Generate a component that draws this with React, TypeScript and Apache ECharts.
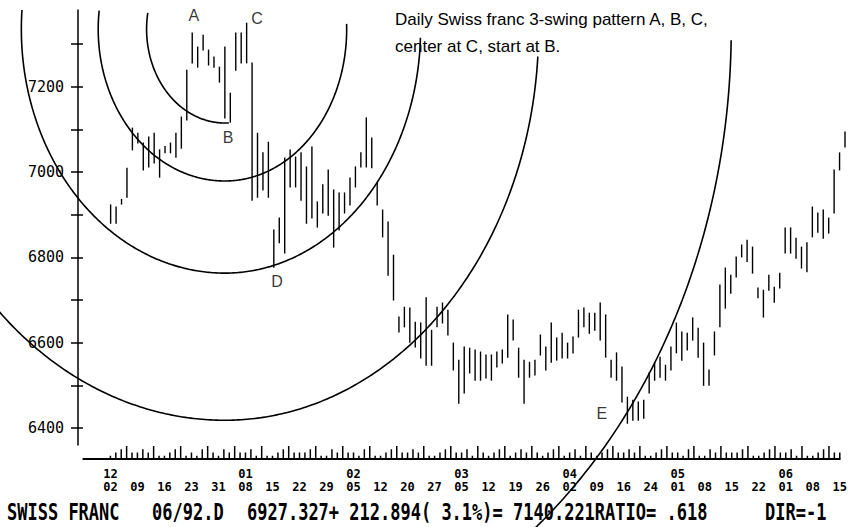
import React, { useEffect, useRef } from "react";
import * as echarts from "echarts";

// ---- axis labels (one label every 5 trading days) ----
const dayLabels = ["02","09","16","23","31","08","15","22","29","05","12","20","27","05","12","19","26","02","09","16","24","01","08","15","22","01","08","15"];
const monthLabels = ["12","","","","","01","","","","02","","","","03","","","","04","","","","05","","","","06","",""];

// ---- daily bars (trading-day index 0 = Dec 02) ----
const highs = [
  6923,6918,6936,7009,7103,7091,7068,7082,7091,7052,
  7060,7068,7091,7129,7239,7326,7293,7321,7286,7270,
  7246,7293,7185,7326,7326,7349,7256,7091,7045,7070,
  6864,6892,7033,7052,7035,7045,7012,7059,6930,6970,
  7005,6958,6951,6951,6986,7012,7045,7127,7080,6974,
  6911,6883,6805,6660,6683,6681,6648,6646,6705,6629,
  6683,6693,6676,6599,6559,6590,6587,6583,6578,6571,
  6571,6578,6583,6665,6653,6587,6559,6554,6559,6618,
  6590,6646,6611,6622,6599,6613,6676,6681,6669,6669,
  6693,6665,6559,6576,6543,6472,6465,6461,6465,6529,
  6552,6566,6547,6590,6646,6625,6622,6658,6634,6599,
  6536,6625,6735,6775,6758,6801,6829,6840,6824,6728,
  6723,6758,6730,6763,6869,6869,6845,6824,6834,6918,
  6904,6911,6892,7005,7045,7094
];
const lows = [
  6880,6880,6925,6941,7052,7068,7005,7012,7021,6988,
  7045,7045,7035,7056,7122,7256,7246,7286,7251,7246,
  7211,7127,7117,7239,7256,7256,6934,6941,6958,6941,
  6777,6834,6810,6965,6965,6934,6880,6892,6871,6904,
  6899,6824,6864,6904,6923,6965,7012,7012,7010,6923,
  6848,6758,6700,6625,6637,6601,6590,6564,6547,6547,
  6637,6646,6618,6536,6458,6482,6529,6512,6512,6517,
  6512,6543,6552,6566,6606,6519,6458,6519,6524,6571,
  6536,6554,6559,6564,6564,6576,6613,6637,6622,6629,
  6606,6566,6519,6512,6461,6411,6418,6418,6423,6482,
  6512,6519,6512,6536,6576,6559,6583,6606,6566,6500,
  6500,6571,6637,6681,6716,6754,6801,6790,6763,6705,
  6660,6723,6695,6728,6810,6810,6798,6775,6766,6848,
  6859,6845,6857,6904,7005,7059
];

// ---- small activity ticks along the time axis ----
const tickMarks = [
  1,2,3,4,2, 2,3,2,4,1, 1,2,3,4,1, 2,1,3,4,2, 1,3,2,4,2,
  2,3,1,4,1, 1,2,3,4,2, 2,2,3,4,1, 1,3,2,4,2, 2,1,3,4,1,
  1,2,3,4,2, 2,3,2,4,1, 1,2,3,4,2, 2,3,1,4,2, 1,2,3,4,1,
  2,3,2,4,2, 1,2,3,4,1, 2,3,1,4,2, 1,2,3,4,2, 2,3,2,4,1,
  1,2,3,4,2, 2,1,3,4,1, 1,3,2,4,2, 2,2,3,4,1, 1,2,3,4,2,
  2,3,1,4,1, 1,2,3,4,2, 2
];

// ---- price axis ----
const yTickValues = [6400,6500,6600,6700,6800,6900,7000,7100,7200,7300];
const yLabelValues = [6400,6600,6800,7000,7200];
const Y_MIN = 6360;
const Y_MAX = 7380;

// ---- swing circles: centre near C, radii growing by the 0.618 ratio ----
const arcCenter = [21.0, 7335];
const arcRadii = [220, 356, 572, 917, 1480];
const arcSweeps = [[-3, 100], [-92, 100], [-88, 100], [-86, 100], [-89, 100]];
const PRICE_PER_BAR = 15.9;
const LEFT_STRETCH = 1.04;

// ---- point annotations ----
const pointNames = ["A", "C", "B", "D", "E"];
const pointBars = [15.3, 26.9, 21.6, 30.6, 90.3];
const pointPrices = [7368, 7361, 7082, 6744, 6433];

const MONO = '"DejaVu Sans Mono", "Liberation Mono", monospace';
const SANS = '"Liberation Sans", Arial, Helvetica, sans-serif';

export default function App() {
  const ref = useRef<HTMLDivElement>(null);

  useEffect(() => {
    if (!ref.current) return;
    const chart = echarts.init(ref.current, undefined, { renderer: "svg" });

    const option: any = {
      animation: false,
      backgroundColor: "#ffffff",
      grid: [
        { left: 78, right: 5, top: 10, height: 435 },
        { left: 83.4, right: 5, top: 446, height: 13 },
      ],
      xAxis: [
        { type: "value", gridIndex: 0, min: -6, max: 135, show: false },
        {
          type: "value",
          gridIndex: 1,
          min: -5,
          max: 135,
          interval: 5,
          axisLine: { show: true, onZero: false, lineStyle: { color: "#000", width: 2 } },
          axisTick: { show: false },
          splitLine: { show: false },
          axisLabel: {
            show: true,
            showMinLabel: true,
            showMaxLabel: true,
            margin: 8,
            color: "#000",
            formatter: (v: number) => {
              if (v < 0) return "";
              const k = Math.round(v / 5);
              const m = monthLabels[k] || " ";
              const d = dayLabels[k] || "";
              return `{m|${m}}\n{d|${d}}`;
            },
            rich: {
              m: { fontFamily: MONO, fontSize: 12, fontWeight: "bold", lineHeight: 13, color: "#000" },
              d: { fontFamily: MONO, fontSize: 12, fontWeight: "bold", lineHeight: 13, color: "#000" },
            },
          },
        },
      ],
      yAxis: [
        {
          type: "value",
          gridIndex: 0,
          min: Y_MIN,
          max: Y_MAX,
          position: "left",
          axisLine: { show: true, onZero: false, lineStyle: { color: "#000", width: 1.5 } },
          axisTick: { show: true, length: 7, customValues: yTickValues, lineStyle: { color: "#000", width: 1.5 } },
          axisLabel: {
            show: true,
            customValues: yLabelValues,
            formatter: (v: number) => String(v),
            margin: 14,
            color: "#000",
            fontFamily: MONO,
            fontSize: 15,
          },
          splitLine: { show: false },
        },
        {
          type: "value",
          gridIndex: 0,
          min: Y_MIN,
          max: Y_MAX,
          position: "left",
          axisLine: { show: false, onZero: false },
          axisTick: { show: true, inside: true, length: 5, customValues: yTickValues, lineStyle: { color: "#000", width: 1.5 } },
          axisLabel: { show: false },
          splitLine: { show: false },
        },
        { type: "value", gridIndex: 1, min: 0, max: 4, show: false },
      ],
      series: [
        {
          type: "custom",
          name: "bars",
          xAxisIndex: 0,
          yAxisIndex: 0,
          clip: false,
          silent: true,
          data: highs.map((h, i) => [i, h, lows[i]]),
          encode: { x: 0, y: [1, 2] },
          renderItem: (_params: any, api: any) => {
            const top = api.coord([api.value(0), api.value(1)]);
            const bot = api.coord([api.value(0), api.value(2)]);
            return {
              type: "line",
              shape: { x1: top[0], y1: top[1] - 0.5, x2: bot[0], y2: bot[1] + 0.5 },
              style: { stroke: "#000", lineWidth: 1.4 },
            };
          },
        },
        {
          type: "custom",
          name: "circles",
          xAxisIndex: 0,
          yAxisIndex: 0,
          clip: false,
          silent: true,
          data: arcRadii.map((r, k) => [arcCenter[0], arcCenter[1], r, arcSweeps[k][0], arcSweeps[k][1]]),
          encode: { x: 0, y: 1 },
          renderItem: (_params: any, api: any) => {
            const cb = api.value(0);
            const cp = api.value(1);
            const r = api.value(2);
            const a0 = api.value(3);
            const a1 = api.value(4);
            const c = api.coord([cb, cp]);
            const b = api.size([0, r])[1];
            const a = api.size([r / PRICE_PER_BAR, 0])[0];
            const yTop = api.coord([cb, Y_MAX])[1];
            const pts: number[][] = [];
            for (let d = a0; d <= a1; d += 0.5) {
              const t = (d * Math.PI) / 180;
              const s = Math.sin(t);
              const x = c[0] - a * s * (s > 0 ? LEFT_STRETCH : 1);
              const y = c[1] + b * Math.cos(t);
              if (y >= yTop) pts.push([x, y]);
            }
            return {
              type: "polyline",
              shape: { points: pts },
              style: { stroke: "#000", lineWidth: 1.6, fill: "none" },
            };
          },
        },
        {
          type: "scatter",
          name: "points",
          xAxisIndex: 0,
          yAxisIndex: 0,
          symbolSize: 0,
          silent: true,
          data: pointNames.map((n, i) => ({ name: n, value: [pointBars[i], pointPrices[i]] })),
          label: {
            show: true,
            position: "inside",
            formatter: "{b}",
            color: "#000",
            fontFamily: SANS,
            fontSize: 16,
          },
        },
        {
          type: "bar",
          name: "ticks",
          xAxisIndex: 1,
          yAxisIndex: 2,
          barWidth: 1.5,
          silent: true,
          itemStyle: { color: "#000" },
          data: tickMarks.map((v, i) => [i, v]),
        },
      ],
      graphic: [
        {
          type: "text",
          x: 395,
          y: 19,
          style: { text: "Daily Swiss franc 3-swing pattern A, B, C,", font: `17px ${SANS}`, fill: "#000", verticalAlign: "middle", align: "left" },
        },
        {
          type: "text",
          x: 395,
          y: 46,
          style: { text: "center at C, start at B.", font: `17px ${SANS}`, fill: "#000", verticalAlign: "middle", align: "left" },
        },
        {
          type: "text", x: 7, y: 512, scaleY: 1.35,
          style: { text: "SWISS FRANC", font: `bold 17px ${MONO}`, fill: "#000", verticalAlign: "middle", align: "left" },
        },
        {
          type: "text", x: 152, y: 512, scaleY: 1.35,
          style: { text: "06/92.D", font: `bold 17px ${MONO}`, fill: "#000", verticalAlign: "middle", align: "left" },
        },
        {
          type: "text", x: 247, y: 512, scaleY: 1.35,
          style: { text: "6927.327+ 212.894( 3.1%)= 7140.221RATIO= .618", font: `bold 17px ${MONO}`, fill: "#000", verticalAlign: "middle", align: "left" },
        },
        {
          type: "text", x: 765, y: 512, scaleY: 1.35,
          style: { text: "DIR=-1", font: `bold 17px ${MONO}`, fill: "#000", verticalAlign: "middle", align: "left" },
        },
      ],
    };

    chart.setOption(option);
    return () => chart.dispose();
  }, []);

  return <div ref={ref} style={{ width: 850, height: 527, position: "absolute", left: 0, top: 0 }} />;
}
